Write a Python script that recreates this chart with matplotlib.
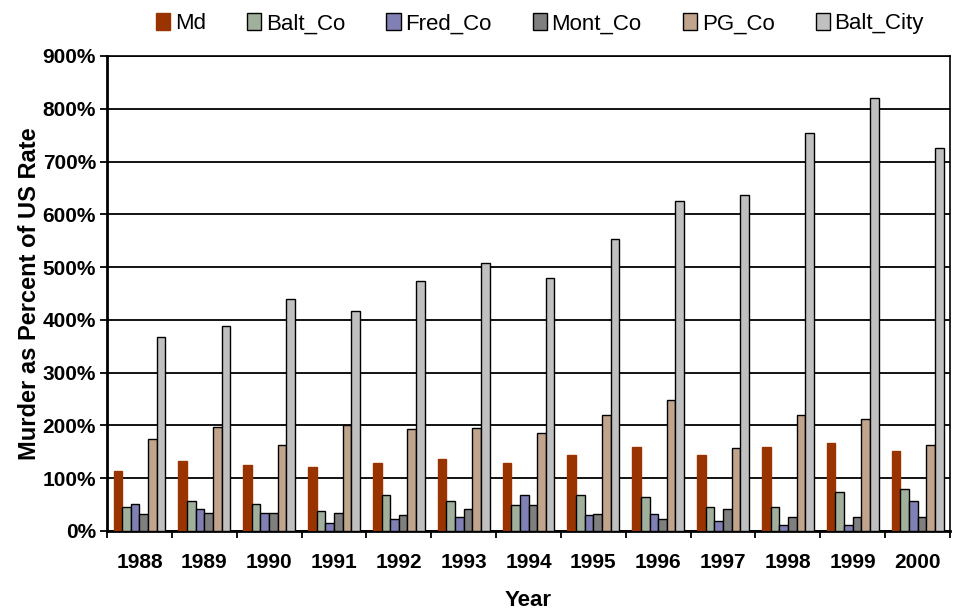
import numpy as np
import matplotlib.pyplot as plt

plt.rcParams['font.family'] = ['Liberation Sans', 'DejaVu Sans']

years = ['1988', '1989', '1990', '1991', '1992', '1993', '1994',
         '1995', '1996', '1997', '1998', '1999', '2000']

# murder rate as percent of the US rate
md = [114, 133, 125, 121, 129, 136, 129, 144, 159, 144, 159, 167, 152]
balt_co = [45, 56, 52, 38, 68, 56, 50, 68, 64, 46, 46, 73, 80]
fred_co = [52, 41, 35, 16, 22, 27, 69, 30, 33, 18, 11, 11, 57]
mont_co = [33, 35, 35, 35, 30, 41, 50, 33, 23, 41, 27, 27, 27]
pg_co = [174, 197, 162, 200, 193, 196, 185, 219, 249, 158, 219, 213, 163]
balt_city = [368, 389, 439, 416, 473, 507, 480, 554, 625, 636, 754, 821, 726]

series = [('Md', md, '#993300'),
          ('Balt_Co', balt_co, '#A0B09C'),
          ('Fred_Co', fred_co, '#8080B4'),
          ('Mont_Co', mont_co, '#7F7F7F'),
          ('PG_Co', pg_co, '#C0A48C'),
          ('Balt_City', balt_city, '#C0C0C0')]

fig = plt.figure(figsize=(9.59, 6.14), dpi=100)
ax = fig.add_axes([0.1116, 0.1352, 0.8790, 0.7736])

x = np.arange(len(years))
w = 0.8 / len(series)
for i, (name, vals, col) in enumerate(series):
    edge = col if name == 'Md' else 'black'
    ax.bar(x - 0.4 + w * (i + 0.5), vals, w, color=col, edgecolor=edge,
           linewidth=1.0, label=name, zorder=3)

ax.set_xlim(-0.5, len(years) - 0.5)
ax.set_ylim(0, 900)
ax.set_yticks(np.arange(0, 901, 100))
ax.set_yticklabels(['%d%%' % v for v in range(0, 901, 100)])
ax.yaxis.grid(True, color='black', linewidth=1.3, zorder=0)
ax.set_axisbelow(True)

ax.set_xticks(x)
ax.set_xticklabels(years)
ax.set_xticks(np.arange(-0.5, len(years)), minor=True)
ax.tick_params(axis='x', which='major', length=0, pad=16)
ax.tick_params(axis='x', which='minor', length=5, width=1.3, direction='out')
ax.tick_params(axis='y', length=5, width=1.3, direction='out', pad=3)
for lab in ax.get_xticklabels() + ax.get_yticklabels():
    lab.set_fontsize(15)
    lab.set_fontweight('bold')

for s in ['left', 'bottom']:
    ax.spines[s].set_linewidth(2)
for s in ['top', 'right']:
    ax.spines[s].set_linewidth(1.2)

ax.set_xlabel('Year', fontsize=16, fontweight='bold', labelpad=13)
ax.set_ylabel('Murder as Percent of US Rate', fontsize=17,
              fontweight='bold', labelpad=1)

fig.legend(loc='upper center', bbox_to_anchor=(0.563, 1.012), ncol=6,
           frameon=False, fontsize=16, handlelength=0.65, handleheight=0.85,
           handletextpad=0.2, columnspacing=1.85)

plt.savefig('out.png', dpi=100)
